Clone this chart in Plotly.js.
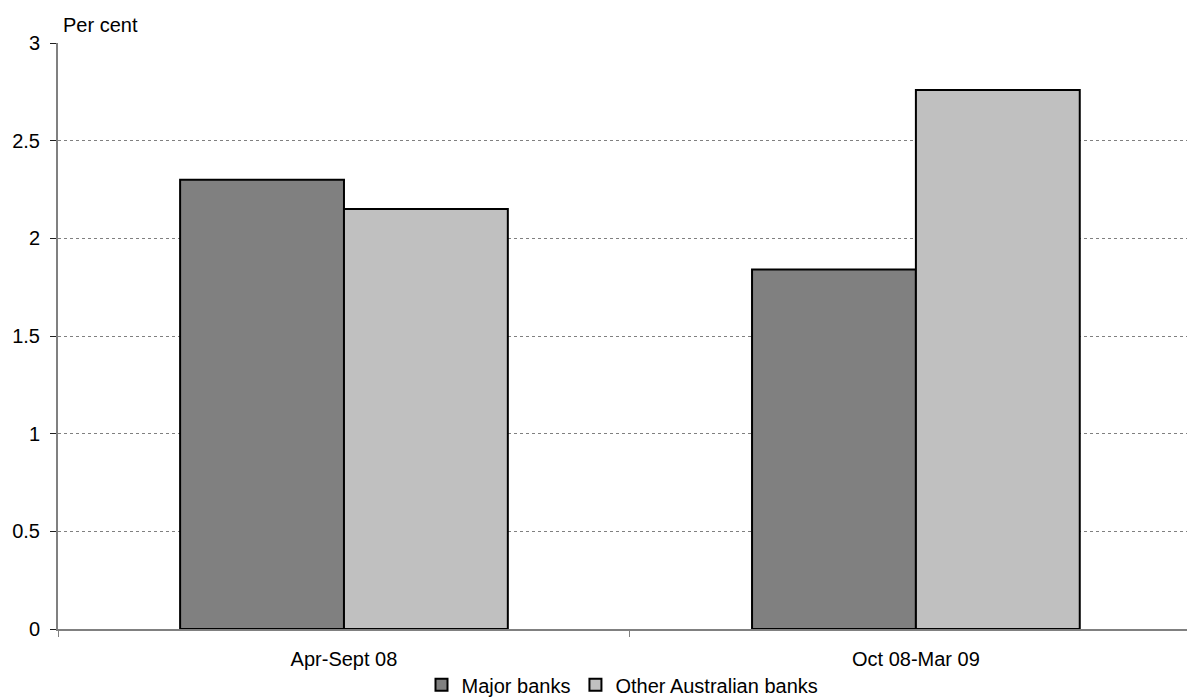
<!DOCTYPE html>
<html>
<head>
<meta charset="utf-8">
<script src="https://cdn.plot.ly/plotly-3.0.1.min.js"></script>
<style>
  html, body { margin: 0; padding: 0; background: #ffffff; }
  #chart { width: 1187px; height: 698px; }
</style>
</head>
<body>
<div id="chart"></div>
<script>
// Periods and bank groups
const periods = ['Apr-Sept 08', 'Oct 08-Mar 09'];
const majorBanks = [2.30, 1.84];
const otherAustralianBanks = [2.15, 2.76];
const yTicks = [0, 0.5, 1, 1.5, 2, 2.5, 3];
const yTickLabels = ['0', '0.5', '1', '1.5', '2', '2.5', '3'];

const font = { family: 'Liberation Sans, Arial, sans-serif', size: 20, color: '#000000' };

const traces = [
  {
    type: 'bar',
    name: 'Major banks',
    x: periods,
    y: majorBanks,
    marker: { color: '#808080', line: { color: '#000000', width: 2 } },
    hoverinfo: 'skip'
  },
  {
    type: 'bar',
    name: 'Other Australian banks',
    x: periods,
    y: otherAustralianBanks,
    marker: { color: '#c0c0c0', line: { color: '#000000', width: 2 } },
    hoverinfo: 'skip'
  }
];

const layout = {
  width: 1187,
  height: 698,
  paper_bgcolor: '#ffffff',
  plot_bgcolor: '#ffffff',
  font: font,
  barmode: 'group',
  bargap: 0.427,
  bargroupgap: 0,
  margin: { l: 58, r: 0, t: 43, b: 69, autoexpand: false },
  showlegend: true,
  legend: {
    orientation: 'h',
    xref: 'paper', yref: 'paper',
    x: 0.5, xanchor: 'center',
    y: -0.062, yanchor: 'top',
    font: font,
    itemgap: 4,
    tracegroupgap: 0,
    bgcolor: 'rgba(0,0,0,0)'
  },
  xaxis: {
    type: 'category',
    range: [-0.5, 1.474],
    showgrid: false,
    zeroline: false,
    showline: true,
    linecolor: '#808080',
    linewidth: 2,
    ticks: 'outside',
    tickson: 'boundaries',
    ticklen: 6,
    tickcolor: '#808080',
    tickfont: font,
    ticklabelstandoff: 11,
    fixedrange: true
  },
  yaxis: {
    range: [0, 3],
    tickvals: yTicks,
    ticktext: yTickLabels,
    showgrid: true,
    gridcolor: '#808080',
    gridwidth: 1,
    griddash: 'dot',
    zeroline: false,
    showline: true,
    linecolor: '#808080',
    linewidth: 2,
    ticks: 'outside',
    ticklen: 6,
    tickcolor: '#202020',
    tickfont: font,
    ticklabelstandoff: 6,
    fixedrange: true
  },
  annotations: [
    {
      text: 'Per cent',
      xref: 'paper', yref: 'paper',
      x: 0, y: 1,
      xshift: 3, yshift: 5,
      xanchor: 'left', yanchor: 'bottom',
      showarrow: false,
      font: font
    }
  ]
};

Plotly.newPlot('chart', traces, layout, { displayModeBar: false, staticPlot: true });
</script>
</body>
</html>
